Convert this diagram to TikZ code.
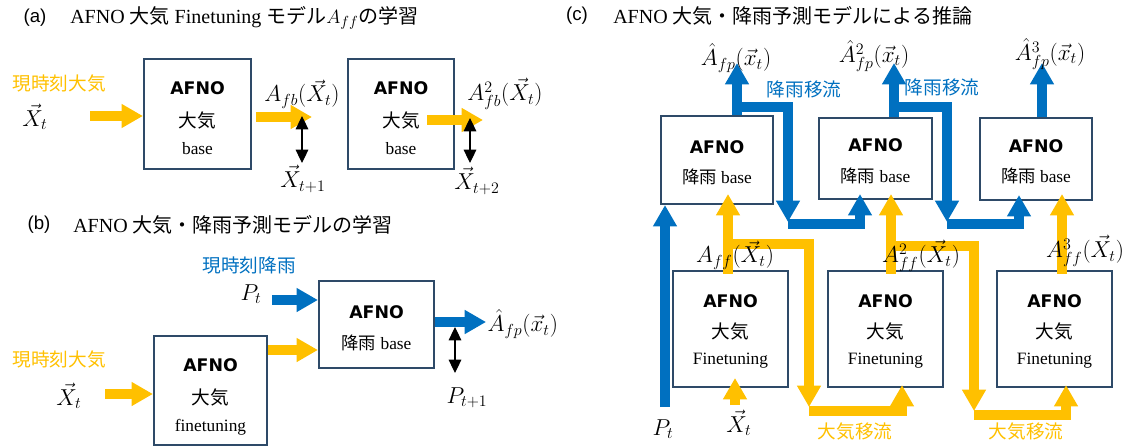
\documentclass[tikz,border=0pt]{standalone}
\usepackage{fontspec}
\setmainfont{Liberation Serif}
\setsansfont{Liberation Sans}
\newfontfamily\jpfnt{Noto Sans CJK JP}
\newfontfamily\afnofnt{DejaVu Sans}
\usetikzlibrary{arrows.meta,calc}
\definecolor{air}{HTML}{FFC000}
\definecolor{rain}{HTML}{0070C0}
\definecolor{frm}{HTML}{2E4A68}
\DeclareMathSizes{17.28}{17.28}{12}{10}
\newcommand{\ja}[1]{{\jpfnt #1}}

\begin{document}
\begin{tikzpicture}[x=0.75pt,y=-0.75pt,
  box/.style={draw=frm,line width=1.6pt,inner sep=0pt},
  afno/.style={font=\afnofnt\bfseries\fontsize{13}{15}\selectfont,inner sep=1pt},
  jpl/.style={font=\jpfnt\fontsize{14}{16}\selectfont,inner sep=1pt},
  ltn/.style={font=\fontsize{13}{15}\selectfont,inner sep=1pt},
  mth/.style={font=\fontsize{17.28}{21}\selectfont,inner sep=1pt},
  ttl/.style={font=\fontsize{15}{18}\selectfont,anchor=west,inner sep=0pt},
  tag/.style={font=\sffamily\fontsize{14}{16}\selectfont,inner sep=0pt},
  fat/.style={line width=7pt,-{Triangle[length=16pt,width=17pt]}},
  airflow/.style={fat,draw=air},
  rainflow/.style={fat,draw=rain},
  dbl/.style={line width=0.8pt,{Triangle[length=10pt,width=9.5pt]}-{Triangle[length=10pt,width=9.5pt]}}]
\useasboundingbox (0,0) rectangle (1130,447);
% (A)
\node[tag] (ta) at (35,18) {(a)};
\node[ttl] (tta) at (70,18) {AFNO \ja{大気} Finetuning \ja{モデル}$A_{ff}$\ja{の学習}};
\node[box,minimum width=107*0.75pt,minimum height=110*0.75pt] (ab1) at (197.5,114) {};
\node[box,minimum width=106*0.75pt,minimum height=110*0.75pt] (ab2) at (401,114) {};
\foreach \b in {ab1,ab2}{
  \node[afno] (\b-a) at ($(\b)+(0,-26)$) {AFNO};
  \node[jpl] (\b-j) at ($(\b)+(0,6)$) {大気};
  \node[ltn] (\b-l) at ($(\b)+(0,35)$) {base};
}
\node[jpl,text=air] (ajx) at (59,83) {現時刻大気};
\node[mth] (axt) at (35,117) {$\vec{X}_t$};
\coordinate (aa0) at (90,116);
\coordinate (aa1) at (256,117);
\coordinate (aa2) at (427,120);
\draw[airflow] (aa0) -- (aa0 -| ab1.west);
\draw[airflow] (aa1) -- ++(56,0);
\draw[airflow] (aa2) -- ++(56,0);
\coordinate (ad1) at (302,116);
\coordinate (ad2) at (470,118);
\draw[dbl] (ad1) -- ++(0,47);
\draw[dbl] (ad2) -- ++(0,45);
\node[mth] (afb1) at (302,94) {$A_{fb}(\vec{X}_t)$};
\node[mth] (afb2) at (505,94) {$A^2_{fb}(\vec{X}_t)$};
\node[mth] (axt1) at (303,179) {$\vec{X}_{t+1}$};
\node[mth] (axt2) at (477,181) {$\vec{X}_{t+2}$};
% (B)
\node[tag] (tb) at (39,225) {(b)};
\node[ttl] (ttb) at (73,225) {AFNO \ja{大気・降雨予測モデルの学習}};
\node[box,minimum width=113*0.75pt,minimum height=109*0.75pt] (bba) at (210.5,390.5) {};
\node[box,minimum width=115*0.75pt,minimum height=87*0.75pt] (bbr) at (376.5,324.5) {};
\node[afno] (bba-a) at (210.5,365) {AFNO};
\node[jpl] (bba-j) at (210.5,397) {大気};
\node[ltn] (bba-l) at (210.5,427) {finetuning};
\node[afno] (bbr-a) at (376.5,312) {AFNO};
\node[ltn] (bbr-l) at (376.5,343) {\ja{降雨} base};
\node[jpl,text=rain] (bjp) at (249,265) {現時刻降雨};
\node[mth] (bpt) at (251,294) {$P_t$};
\node[jpl,text=air] (bjx) at (59,359) {現時刻大気};
\node[mth] (bxt) at (69,396) {$\vec{X}_t$};
\coordinate (bp0) at (272,300);
\coordinate (bp1) at (0,322);
\coordinate (ba0) at (105,394);
\coordinate (ba1) at (0,350);
\draw[rainflow] (bp0) -- (bp0 -| bbr.west);
\draw[rainflow] (bbr.east |- bp1) -- ++(51,0);
\draw[airflow] (ba0) -- (ba0 -| bba.west);
\draw[airflow] (bba.east |- ba1) -- (bbr.west |- ba1);
\coordinate (bd) at (455,327);
\draw[dbl] (bd) -- ++(0,46);
\node[mth,anchor=west] (bafp) at (486,324) {$\hat{A}_{fp}(\vec{x}_t)$};
\node[mth] (bpt1) at (467,398) {$P_{t+1}$};
% (C)
\node[tag] (tc) at (577,16) {(c)};
\node[ttl] (ttc) at (613,16) {AFNO \ja{大気・降雨予測モデルによる推論}};
\foreach \n/\cx/\cy/\w/\h in {1/717/160/112/88, 2/875.5/158.5/113/81, 3/1036/159/112/82}{
  \node[box,minimum width=\w*0.75pt,minimum height=\h*0.75pt] (rb\n) at (\cx,\cy) {};
  \node[afno] (rb\n-a) at (\cx,\cy-13) {AFNO};
  \node[ltn] (rb\n-l) at (\cx,\cy+17) {\ja{降雨} base};
}
\foreach \n/\cx in {1/730.5, 2/885.5, 3/1054.5}{
  \node[box,minimum width=115*0.75pt,minimum height=116*0.75pt] (fb\n) at (\cx,329) {};
  \node[afno] (fb\n-a) at (\cx,301) {AFNO};
  \node[jpl] (fb\n-j) at (\cx,331) {大気};
  \node[ltn] (fb\n-l) at (\cx,361) {Finetuning};
}
% rain
\coordinate (ctop) at (0,63);
\coordinate (rl) at (0,107);
\coordinate (cp0) at (665,407);
\draw[rainflow] (cp0) -- (cp0 |- rb1.south);
\foreach \n/\dx in {1/20, 2/18.5, 3/6}{
  \draw[rainflow] ($(rb\n.north)+(\dx,0)$) coordinate (ru\n) -- (ru\n |- ctop);
}
\foreach \n/\m/\xb/\dx in {1/2/788/-15.5, 2/3/947/-17}{
  \draw[rainflow] (ru\n |- rl) -| (\xb,222);
  \draw[rainflow] (\xb,224) -| ($(rb\m.south)+(\dx,-6)$);
}
% air
\coordinate (ytop) at (0,194);
\foreach \n/\dx in {1/-2.5, 2/5.5, 3/7.5}{
  \draw[airflow] ($(fb\n.north)+(\dx,4)$) coordinate (yu\n) -- (yu\n |- ytop);
}
\foreach \n/\m/\yy/\xb/\yb/\dx in {1/2/244/809/411/16.5, 2/3/246/974/415/11.5}{
  \coordinate (yl\n) at (0,\yy);
  \draw[airflow] (yu\n |- yl\n) -| (\xb,\yb-4);
  \draw[airflow] (\xb,\yb) -| ($(fb\m.south)+(\dx,-3)$);
}
\coordinate (cx0) at (735,405);
\draw[airflow] (cx0) -- ++(0,-27);
% labels
\node[mth] (cpt) at (663,429) {$P_t$};
\node[mth] (cxt) at (739,423) {$\vec{X}_t$};
\node[mth] (cafp1) at (736,58) {$\hat{A}_{fp}(\vec{x}_t)$};
\node[mth] (cafp2) at (874,56) {$\hat{A}^2_{fp}(\vec{x}_t)$};
\node[mth] (cafp3) at (1050,54) {$\hat{A}^3_{fp}(\vec{x}_t)$};
\node[mth] (caff1) at (735,255) {$A_{ff}(\vec{X}_t)$};
\node[mth] (caff2) at (921,256) {$A^2_{ff}(\vec{X}_t)$};
\node[mth] (caff3) at (1085,251) {$A^3_{ff}(\vec{X}_t)$};
\node[jpl,text=rain] (cra1) at (804,89) {降雨移流};
\node[jpl,text=rain] (cra2) at (942,87) {降雨移流};
\node[jpl,text=air] (caa1) at (855,431) {大気移流};
\node[jpl,text=air] (caa2) at (1026,431) {大気移流};
\end{tikzpicture}
\end{document}
